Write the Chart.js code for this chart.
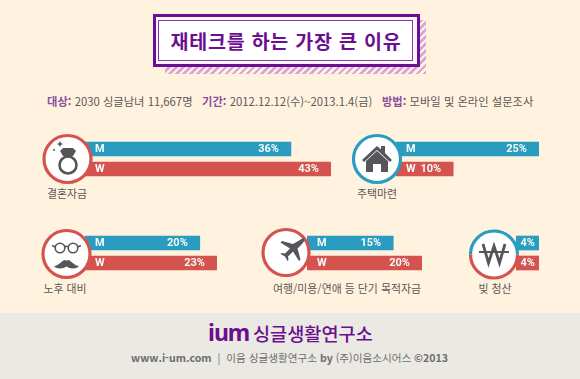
<!DOCTYPE html>
<html lang="ko">
<head>
    <meta charset="UTF-8">
    <title>재테크를 하는 가장 큰 이유</title>
    <script src="https://cdn.jsdelivr.net/npm/chart.js"></script>
    <style>
        html, body { margin: 0; padding: 0; }
        body { width: 580px; height: 379px; overflow: hidden; position: relative; background: #fff3e0; font-family: "Noto Sans CJK KR", sans-serif; color: #5b5754; }
        canvas { position: absolute; }
        .abs { position: absolute; white-space: nowrap; }
        #hatch { left: 165px; top: 20px; width: 261px; height: 54px; background: repeating-linear-gradient(135deg, #d6a8de 0 2.5px, #fff3e0 2.5px 5px); }
        #box { left: 153px; top: 14px; width: 261px; height: 47px; border: 3.5px solid #6b0f8e; background: #fbf6fc; }
        #inner { left: 158px; top: 20px; width: 253px; height: 39px; border: 1.5px solid #8a3aa8; background: #fff; }
        #title { left: 158px; width: 256px; top: 28px; text-align: center; font-size: 19.5px; line-height: 26px; font-weight: 700; color: #6b0f8e; letter-spacing: .8px; }
        #info { left: 47px; top: 93px; font-size: 11.3px; line-height: 16px; }
        #info b { color: #8a4f9e; font-weight: 700; }
        .name { font-size: 10.9px; line-height: 14px; transform: translateX(-50%); }
        #footer { left: 0; top: 313px; width: 580px; height: 66px; background: #ebe9e3; }
        #logo { left: 208px; top: 317px; font-size: 23px; line-height: 30px; font-weight: 700; color: #6b0f8e; font-family: "Noto Sans", sans-serif; letter-spacing: -1px; }
        #org { left: 253px; top: 319px; font-size: 18.6px; line-height: 28px; font-weight: 500; color: #6b0f8e; }
        #credit { left: 131px; top: 350px; font-size: 10.6px; line-height: 16px; font-weight: 700; color: #6f6c70; }
        #credit span { font-weight: 400; }
        svg { position: absolute; left: 0; top: 0; }
    </style>
</head>
<body>
    <div class="abs" id="hatch"></div>
    <div class="abs" id="box"></div>
    <div class="abs" id="inner"></div>
    <div class="abs" id="title">재테크를 하는 가장 큰 이유</div>
    <div class="abs" id="info"><b>대상:</b> 2030 싱글남녀 11,667명 &nbsp; <b>기간:</b> 2012.12.12(수)~2013.1.4(금) &nbsp; <b>방법:</b> 모바일 및 온라인 설문조사</div>

    <div class="abs" id="footer"></div>
    <div class="abs" id="logo">ium</div>
    <div class="abs" id="org">싱글생활연구소</div>
    <div class="abs" id="credit">www.i-um.com &nbsp;<span>|&nbsp; 이음 싱글생활연구소</span> by <span>(주)이음소시어스</span> ©2013</div>

    <div class="abs name" style="left:67px;top:186px">결혼자금</div>
    <div class="abs name" style="left:377px;top:186px">주택마련</div>
    <div class="abs name" style="left:65px;top:281px">노후 대비</div>
    <div class="abs name" style="left:347px;top:281px">여행/미용/연애 등 단기 목적자금</div>
    <div class="abs name" style="left:495px;top:281px">빚 청산</div>

    <script>
        const categories = ["M", "W"];
        const reasons = ["결혼자금", "주택마련", "노후 대비", "여행/미용/연애 등 단기 목적자금", "빚 청산"];
        const menValues = [36, 25, 20, 15, 4];
        const womenValues = [43, 10, 23, 20, 4];

        // where each small chart sits on the page
        const panelLeft = [85, 396, 85, 307, 516];
        const panelTop = [139, 139, 233, 233, 233];
        const pxPerPercent = 5.73;

        const blue = "#2a9cbf";
        const red = "#d5534e";

        // white M/W and percent text inside the bars
        const barText = {
            id: "barText",
            afterDatasetsDraw(chart) {
                const ctx = chart.ctx;
                const meta = chart.getDatasetMeta(0);
                const small = chart.options.plugins.barText.small;
                ctx.save();
                ctx.fillStyle = "#f4fbfb";
                ctx.font = "700 11px Roboto";
                ctx.textBaseline = "middle";
                meta.data.forEach((bar, i) => {
                    if (!small) {
                        ctx.textAlign = "left";
                        ctx.fillText(categories[i], chart.scales.x.getPixelForValue(0) + 10, bar.y);
                    }
                    ctx.textAlign = "right";
                    ctx.fillText(chart.data.datasets[0].data[i] + "%", bar.x - (small ? 4 : 12), bar.y);
                });
                ctx.restore();
            }
        };

        reasons.forEach((reason, i) => {
            const values = [menValues[i], womenValues[i]];
            const top = Math.max(...values);
            const canvas = document.createElement("canvas");
            canvas.width = Math.round(top * pxPerPercent);
            canvas.height = 40;
            canvas.style.left = panelLeft[i] + "px";
            canvas.style.top = panelTop[i] + "px";
            canvas.setAttribute("aria-label", reason);
            document.body.appendChild(canvas);

            new Chart(canvas.getContext("2d"), {
                type: "bar",
                data: {
                    labels: categories,
                    datasets: [{
                        label: reason,
                        data: values,
                        backgroundColor: [blue, red],
                        barThickness: 14
                    }]
                },
                options: {
                    indexAxis: "y",
                    responsive: false,
                    animation: false,
                    layout: { padding: 0 },
                    scales: {
                        x: { display: false, min: 0, max: top },
                        y: { display: false }
                    },
                    plugins: {
                        legend: { display: false },
                        tooltip: { enabled: false },
                        barText: { small: top < 5 }
                    }
                },
                plugins: [barText]
            });
        });
    </script>

    <!-- round icons sit on top of the bars -->
    <svg width="580" height="379" style="z-index:5">
        <g stroke-width="3.2" fill="#fff">
            <circle cx="67.500" cy="159" r="23.500" stroke="#d5534e"/>
            <circle cx="377" cy="159" r="23.500" stroke="#2a9cbf"/>
            <circle cx="66.500" cy="254" r="23.500" stroke="#d5534e"/>
            <circle cx="286" cy="252.500" r="23" stroke="#d5534e"/>
            <circle cx="494" cy="254.500" r="23.500" fill="#fff" stroke="none"/>
            <path d="M470.500 254.500a23.500 23.500 0 0 1 47 0" fill="none" stroke="#2a9cbf"/>
            <path d="M470.500 254.500a23.500 23.500 0 0 0 47 0" fill="none" stroke="#d5534e"/>
        </g>
        <g fill="#55555a" stroke="none">
            <!-- ring -->
            <circle cx="68" cy="165" r="8.500" fill="none" stroke="#55555a" stroke-width="2.600"/>
            <path d="M63 148h10l3 3-3 5h-10l-3-5z"/>
            <path d="M60 141l1 2 2 1-2 1-1 2-1-2-2-1 2-1z"/>
            <circle cx="54" cy="150" r="1"/>
            <!-- house -->
            <path d="M362 160l15-14 4 3.500v-3.500h4v7l7 7-2 2-13-12-13 12z"/>
            <path d="M366 161l11-10 11 10v11h-7v-8h-8v8h-7z"/>
            <!-- moustache -->
            <path d="M54 266c5 0 8-6 11-6 1 0 1.500 1 1.500 1s.5-1 1.500-1c3 0 6 6 11 6-3 3.500-9 3-12.500 .5-3.500 2.500-9.500 3-12.500-.5z"/>
            <!-- plane -->
            <path d="M300 240c2-2 4.500-2 4.500-.5s-1 2.500-2.500 4.500l-4.500 4.500 3 11-1.500 1.500-6-9.500-5 5 .5 3.500-1 1-2.500-4.500-4.500-2.500 1-1 3.500 .5 5-5-9.500-6 1.500-1.500 11 3z"/>
        </g>
        <!-- glasses -->
        <g fill="none" stroke="#55555a" stroke-width="1.600">
            <circle cx="60" cy="248" r="4.800"/>
            <circle cx="73" cy="248" r="4.800"/>
            <path d="M64.800 247q1.700-1.500 3.400 0M55.200 247l-3-1.500M77.800 247l3-1.500"/>
        </g>
        <!-- won sign -->
        <g fill="none" stroke="#55555a" stroke-width="2.800">
            <path d="M483 244l5.500 19 5.500-17 5.500 17 5.500-19"/>
            <path d="M479 252h30" stroke-width="2"/>
        </g>
    </svg>
</body>
</html>
